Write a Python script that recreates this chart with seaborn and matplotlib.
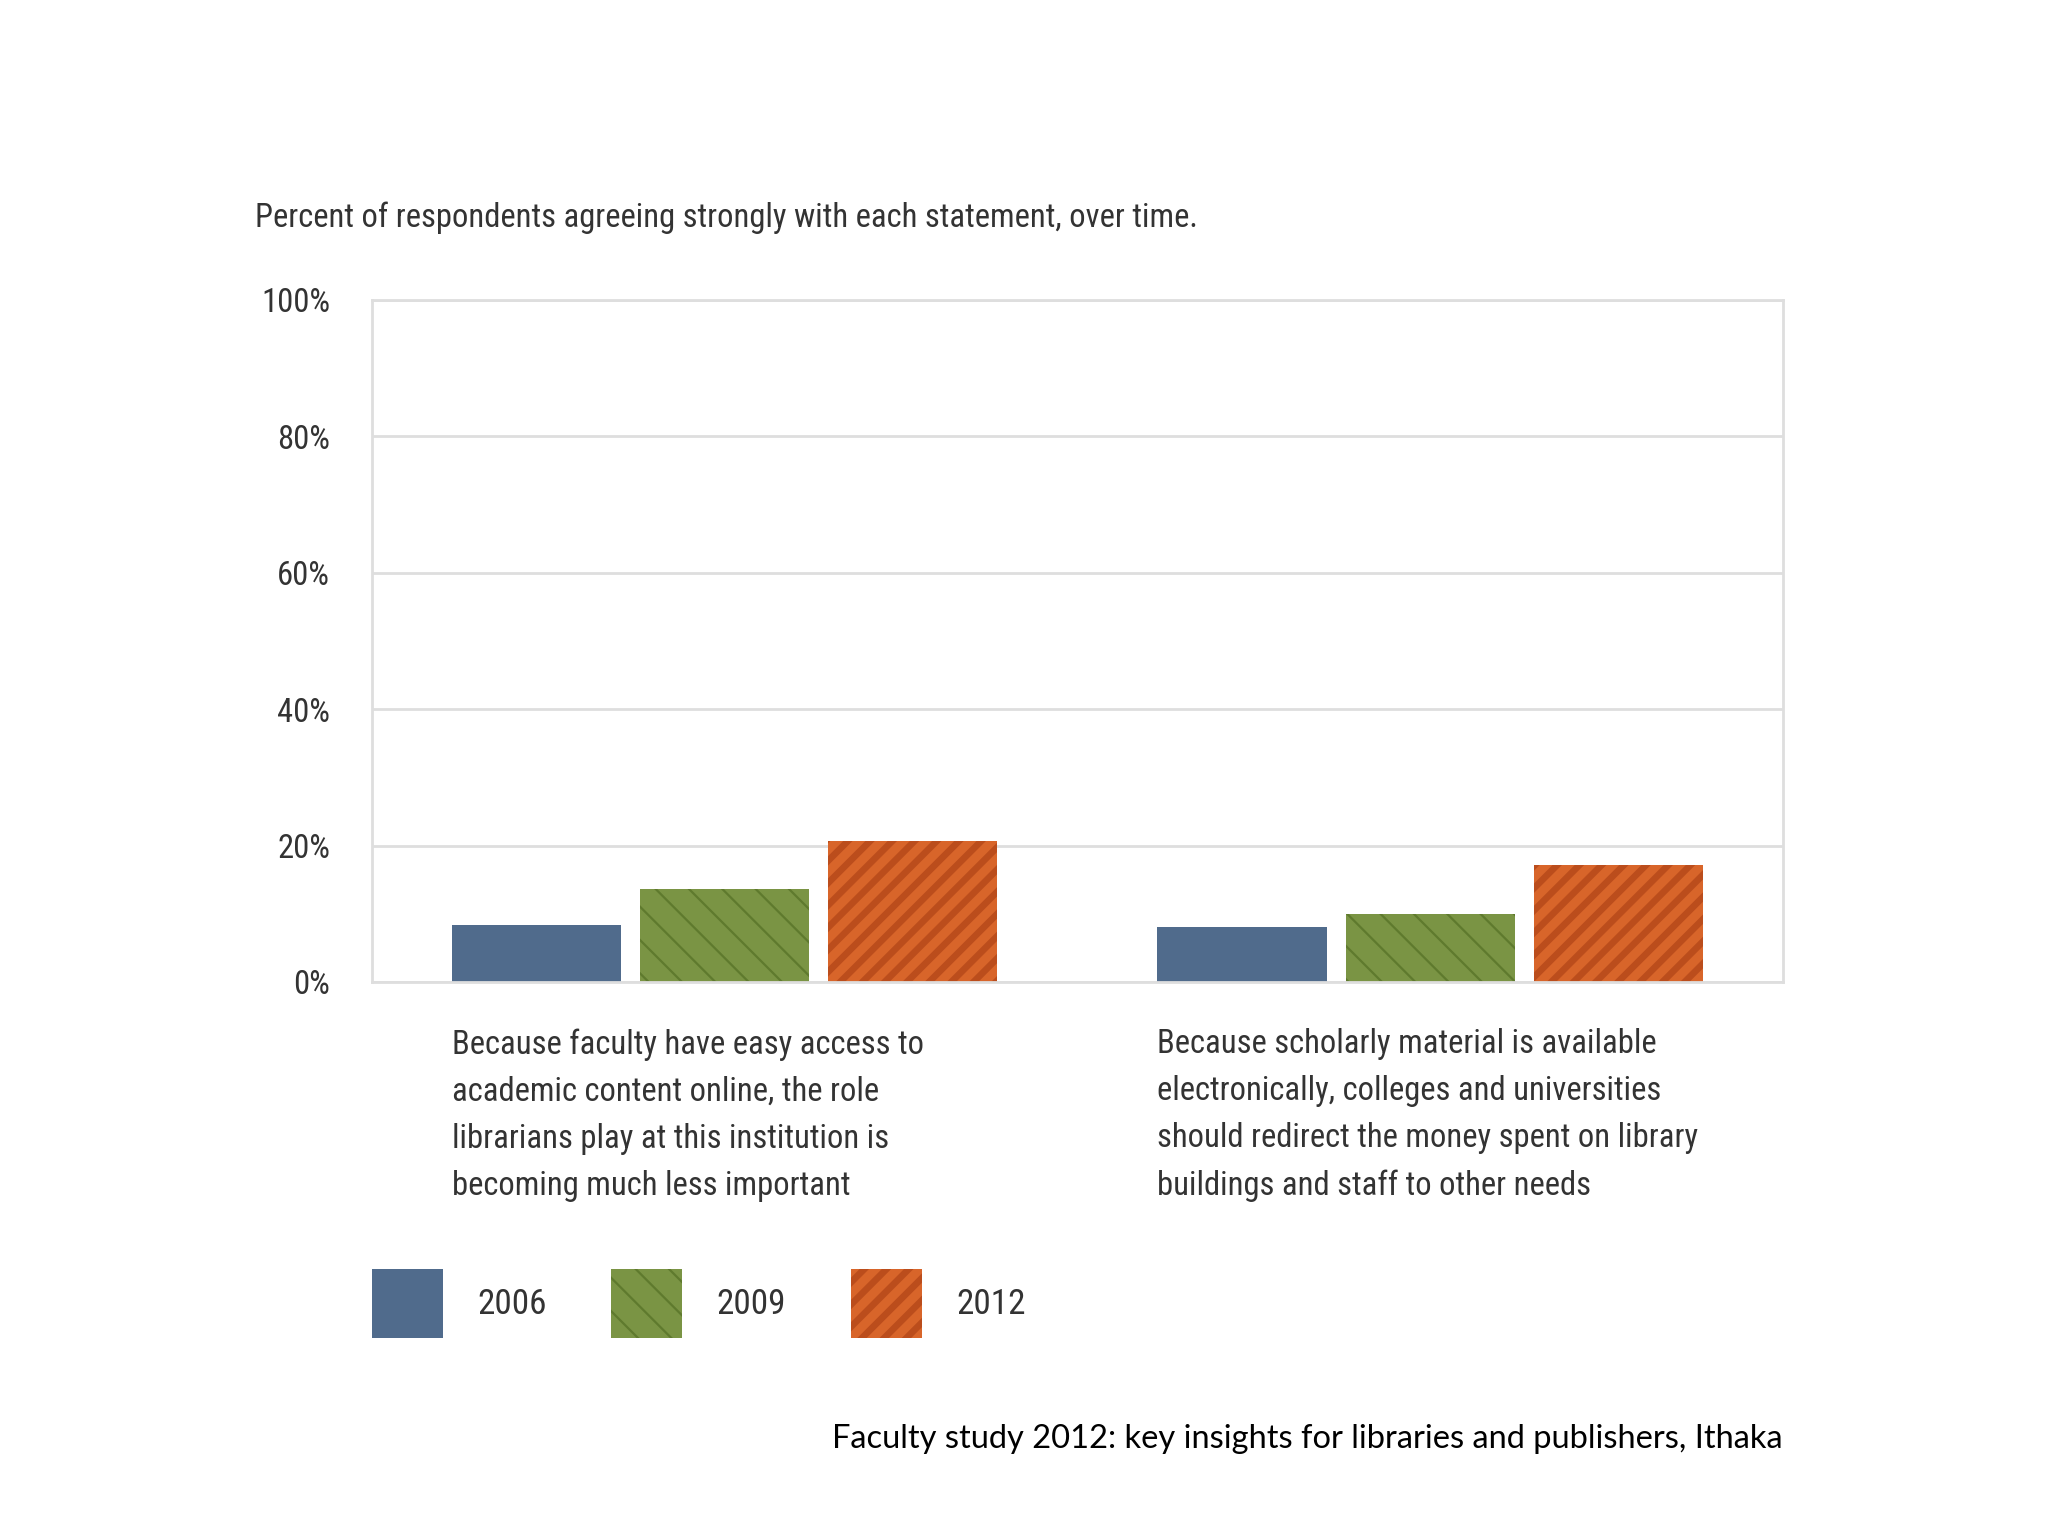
import pandas as pd
import matplotlib
matplotlib.use("Agg")
import matplotlib.pyplot as plt
import seaborn as sns
from matplotlib import font_manager as fm
from matplotlib.patches import Patch

# Dados
afirmacoes = [
    "Because faculty have easy access to\nacademic content online, the role\nlibrarians play at this institution is\nbecoming much less important",
    "Because scholarly material is available\nelectronically, colleges and universities\nshould redirect the money spent on library\nbuildings and staff to other needs",
]
anos = ["2006", "2009", "2012"]
valores_2006 = [8.3, 8.1]
valores_2009 = [13.7, 10.0]
valores_2012 = [20.6, 17.2]

cores = ["#506b8c", "#7a9444", "#d8652a"]
cores_hachura = ["#506b8c", "#5f7a2e", "#bb4d1c"]
hachuras = ["", "\\\\", "///"]
larguras_hachura = [1.0, 0.8, 2.4]

titulo = "Percent of respondents agreeing strongly with each statement, over time."
fonte = "Faculty study 2012: key insights for libraries and publishers, Ithaka"

sns.set_theme(style="white")

# Escolhe uma fonte estreita, se houver
nomes = {f.name for f in fm.fontManager.ttflist}
esticar = "normal"
familia = "Liberation Sans"
for candidata in ["Roboto Condensed", "Liberation Sans Narrow", "Open Sans Condensed"]:
    if candidata in nomes:
        familia = candidata
        break
else:
    if any(f.name == "DejaVu Sans" and f.stretch == "condensed" for f in fm.fontManager.ttflist):
        familia = "DejaVu Sans"
        esticar = "condensed"
plt.rcParams["font.family"] = [familia, "DejaVu Sans"]
plt.rcParams["font.stretch"] = esticar
plt.rcParams["hatch.linewidth"] = 1.0

cor_texto = "#333333"
DPI = 200

df = pd.DataFrame({
    "Afirmação": [0, 1] * 3,
    "Ano": [a for a in anos for _ in range(2)],
    "Percentual": valores_2006 + valores_2009 + valores_2012,
})

fig = plt.figure(figsize=(10.24, 7.68), dpi=DPI)
render = fig.canvas.get_renderer()

# Título e fator de escala da fonte (largura do título no original ~942 px)
t_titulo = fig.text(0.1245, 0.858, titulo, fontsize=13, color=cor_texto, ha="left", va="center")
fator = 942 / t_titulo.get_window_extent(render).width
t_titulo.set_fontsize(13 * fator)

ax = fig.add_axes([0.1816, 0.3607, 0.689, 0.444])

sns.barplot(data=df, x="Afirmação", y="Percentual", hue="Ano", palette=cores,
            saturation=1, width=0.8, gap=0.1, legend=False, ax=ax, errorbar=None)


def com_espessura(desenho, lw):
    # a espessura da hachura é lida no momento do desenho
    def novo(renderer):
        with plt.rc_context({"hatch.linewidth": lw}):
            desenho(renderer)
    return novo


def aplicar_hachura(p, cor_h, hachura, lw):
    p.set_hatch(hachura)
    p.set_edgecolor(cor_h)
    p.set_linewidth(0)
    if hasattr(p, "set_hatch_linewidth"):
        p.set_hatch_linewidth(lw)
    p.draw = com_espessura(p.draw, lw)


for container, cor_h, hachura, lw in zip(ax.containers, cores_hachura, hachuras, larguras_hachura):
    for barra in container:
        aplicar_hachura(barra, cor_h, hachura, lw)

ax.set_xlim(-0.5, 1.5)
ax.set_ylim(0, 100)
ax.set_yticks([0, 20, 40, 60, 80, 100])
ax.set_yticklabels(["0%", "20%", "40%", "60%", "80%", "100%"], fontsize=13 * fator, color=cor_texto)
ax.tick_params(axis="y", length=0, pad=15)
ax.set_xticks([])
ax.set_xlabel("")
ax.set_ylabel("")
ax.grid(axis="y", color="#dedede", linewidth=1.0)
ax.set_axisbelow(True)
for lado in ax.spines.values():
    lado.set_visible(True)
    lado.set_color("#dedede")
    lado.set_linewidth(1.0)

# Rótulos das categorias, alinhados à esquerda da primeira barra
teste = fig.text(0, 0, "Ag", fontsize=13 * fator)
teste4 = fig.text(0, 0, "Ag\nAg\nAg\nAg", fontsize=13 * fator, linespacing=1.3)
passo = (teste4.get_window_extent(render).height - teste.get_window_extent(render).height) / 3
teste.remove()
teste4.remove()
espaco = 1.3 * 48.5 / passo

for i, texto in enumerate(afirmacoes):
    ax.text(i - 0.387, -0.068, texto, transform=ax.get_xaxis_transform(),
            ha="left", va="top", fontsize=13 * fator, color=cor_texto, linespacing=espaco)

# Legenda personalizada
alcas = [Patch(facecolor=cor, label=ano) for ano, cor in zip(anos, cores)]
tam_leg = 14 * fator
px = tam_leg * DPI / 72
leg = fig.legend(handles=alcas, loc="upper left", bbox_to_anchor=(0.1816, 1 - 1269 / 1536),
                 ncol=3, frameon=False, fontsize=tam_leg,
                 handlelength=71 / px, handleheight=71 / px / 0.76,
                 handletextpad=34 / px, columnspacing=65 / px, borderpad=0, borderaxespad=0)
for t in leg.get_texts():
    t.set_color(cor_texto)
for p, cor_h, hachura, lw in zip(leg.legend_handles, cores_hachura, hachuras, larguras_hachura):
    aplicar_hachura(p, cor_h, hachura, lw)

fig.text(0.8706, 1 - 1439 / 1536, fonte, fontsize=11.75, color="black", ha="right", va="center",
         family=["Lato", "DejaVu Sans"], stretch="normal")

fig.savefig("out.png", dpi=DPI, facecolor="white")
